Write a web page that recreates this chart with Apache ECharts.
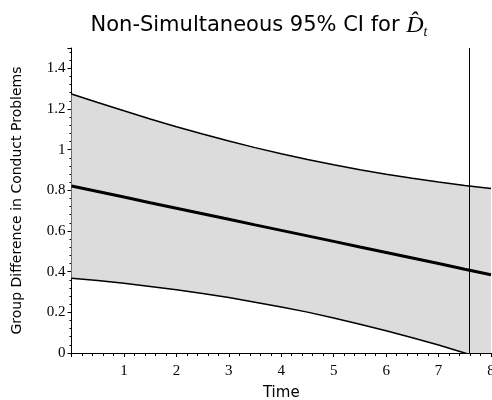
<!DOCTYPE html>
<html>
<head>
<meta charset="utf-8">
<script src="https://cdn.jsdelivr.net/npm/echarts@6/dist/echarts.min.js"></script>
<style>html,body{margin:0;padding:0;background:#fff}#c{width:492px;height:400px}</style>
</head>
<body>
<div id="c"></div>
<script>
// Values
var times = [0, 0.5, 1, 1.5, 2, 2.5, 3, 3.5, 4, 4.5, 5, 5.5, 6, 6.5, 7, 7.5, 8];
var estimate = [0.821, 0.794, 0.767, 0.739, 0.712, 0.685, 0.658, 0.630, 0.603, 0.576, 0.549, 0.521, 0.494, 0.467, 0.440, 0.412, 0.385];
var upperCI = [1.274, 1.232, 1.191, 1.151, 1.113, 1.077, 1.043, 1.010, 0.980, 0.952, 0.926, 0.901, 0.879, 0.859, 0.841, 0.824, 0.809];
var lowerCI = [0.368, 0.356, 0.343, 0.327, 0.311, 0.293, 0.273, 0.250, 0.226, 0.201, 0.172, 0.141, 0.109, 0.075, 0.039, 0.000, -0.039];
var crossingTime = 7.58;
var xTicks = [1, 2, 3, 4, 5, 6, 7, 8];
var yTicks = [0, 0.2, 0.4, 0.6, 0.8, 1, 1.2, 1.4];

function pairs(ys) { return times.map(function (t, i) { return [t, ys[i]]; }); }

var chart = echarts.init(document.getElementById('c'), null, {renderer: 'canvas'});
var axisFont = {fontFamily: 'Liberation Serif', fontSize: 15, color: '#000'};
chart.setOption({
  animation: false,
  backgroundColor: '#fff',
  title: {
    text: 'Non-Simultaneous 95% CI for {d|D\u0302}{s|t}',
    left: 254, top: 8, textAlign: 'center',
    textStyle: {
      fontFamily: 'DejaVu Sans', fontSize: 21, fontWeight: 'normal', color: '#000',
      rich: {
        d: {fontFamily: 'Liberation Serif', fontStyle: 'italic', fontSize: 24, color: '#000'},
        s: {fontFamily: 'Liberation Serif', fontStyle: 'italic', fontSize: 14, color: '#000', padding: [12, 0, 0, 0]}
      }
    }
  },
  grid: {left: 71.5, right: 1, top: 48, bottom: 47, outerBoundsMode: 'none', containLabel: false},
  xAxis: {
    type: 'value', min: 0, max: 8, interval: 1,
    name: 'Time', nameLocation: 'middle', nameGap: 33,
    nameTextStyle: {fontFamily: 'DejaVu Sans', fontSize: 15, color: '#000'},
    axisLine: {show: true, onZero: false, lineStyle: {color: '#000', width: 1}},
    axisTick: {show: true, length: 4, inside: false, lineStyle: {color: '#000'}},
    minorTick: {show: true, splitNumber: 5, length: 3, lineStyle: {color: '#000'}},
    splitLine: {show: false},
    axisLabel: Object.assign({showMinLabel: false, margin: 11, formatter: function (v) { return xTicks.indexOf(v) >= 0 ? String(v) : ''; }}, axisFont)
  },
  yAxis: {
    type: 'value', min: 0, max: 1.5, interval: 0.2,
    name: 'Group Difference in Conduct Problems', nameLocation: 'middle', nameGap: 47,
    nameTextStyle: {fontFamily: 'DejaVu Sans', fontSize: 14, color: '#000'},
    axisLine: {show: true, lineStyle: {color: '#000', width: 1}},
    axisTick: {show: true, length: 4, lineStyle: {color: '#000'}},
    minorTick: {show: true, splitNumber: 5, length: 2, lineStyle: {color: '#000'}},
    splitLine: {show: false},
    axisLabel: Object.assign({margin: 6, formatter: function (v) { var r = Math.round(v * 10) / 10; return yTicks.indexOf(r) >= 0 ? String(r) : ''; }}, axisFont)
  },
  series: [
    {
      name: 'band', type: 'custom', clip: true, z: 1, silent: true,
      data: [[0, 0]],
      renderItem: function (params, api) {
        var pts = [];
        for (var i = 0; i < times.length; i++) pts.push(api.coord([times[i], upperCI[i]]));
        for (var j = times.length - 1; j >= 0; j--) pts.push(api.coord([times[j], lowerCI[j]]));
        return {type: 'polygon', shape: {points: pts, smooth: 0}, style: {fill: '#dcdcdc', stroke: null}};
      }
    },
    {
      name: 'lower', type: 'line', data: pairs(lowerCI),
      symbol: 'none', z: 3,
      lineStyle: {color: '#000', width: 1.5}
    },
    {
      name: 'upper', type: 'line', data: pairs(upperCI),
      symbol: 'none', z: 3,
      lineStyle: {color: '#000', width: 1.5}
    },
    {
      name: 'estimate', type: 'line', data: pairs(estimate),
      symbol: 'none', z: 4,
      lineStyle: {color: '#000', width: 3},
      markLine: {
        silent: true, symbol: 'none', label: {show: false},
        lineStyle: {color: '#000', width: 1, type: 'solid'},
        data: [{xAxis: crossingTime}]
      }
    }
  ]
});
</script>
</body>
</html>
